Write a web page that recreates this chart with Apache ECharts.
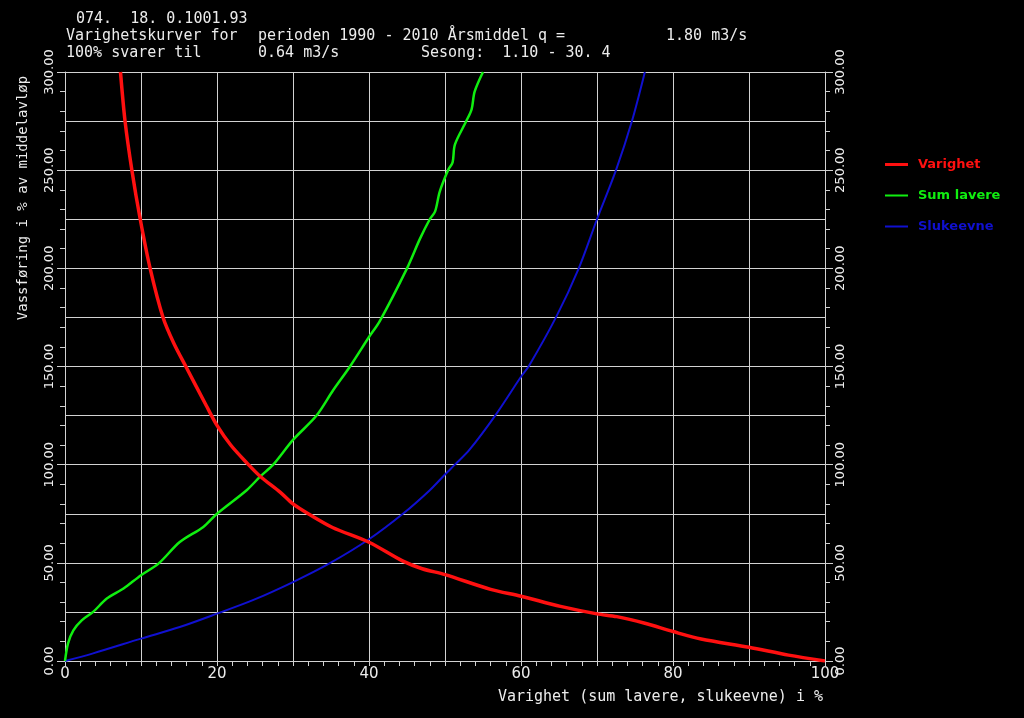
<!DOCTYPE html>
<html>
<head>
<meta charset="utf-8">
<script src="https://cdn.jsdelivr.net/npm/echarts@6/dist/echarts.min.js"></script>
<style>html,body{margin:0;padding:0;background:#000;}#c{width:1024px;height:718px;}</style>
</head>
<body>
<div id="c"></div>
<script>
// Varighet (duration curve): [percent of time, % of mean flow]
const varighet = [[7.3,300],[7.9,275],[8.8,250],[9.9,225],[11.2,200],[12.9,175],[14.3,162],[15.9,150],[18.6,130],[20,120],[21.8,110],[23.9,101],[25.7,94],[28.3,86],[30,80],[32,75],[35.2,68],[40,60.5],[44.4,51],[47,47],[50,44],[56,36.5],[60,33],[65.2,27.8],[70,24],[72.6,22.6],[76.3,19.2],[80,15],[83.7,11.2],[90,7],[95.2,3],[100,0]];
// Sum lavere
const sumLavere = [[0,0],[0.4,9],[1.1,15.6],[2.2,20.7],[3.7,25],[5.5,31.8],[7.7,36.9],[10,43.7],[12.3,49.6],[15.1,60.6],[18.2,68.3],[20,75],[23.9,87],[25.7,94],[27.4,100],[30,112.6],[33.1,125],[35.3,138],[37.5,150],[40,165],[41.4,173],[45,200],[46.7,215],[48,225],[48.7,229],[49.3,239],[50.4,250],[51,254],[51.3,263],[52.8,275],[53.5,281],[53.9,290],[55,300]];
// Slukeevne
const slukeevne = [[0,0],[3.7,3.9],[10,11.4],[15.1,17.3],[20,24.1],[24.8,31.1],[30,40.2],[34.8,49.7],[40,62],[44.5,75.1],[48,87],[50,95],[51.3,100],[53.2,107.5],[56.6,125],[60,144.8],[61,150],[64.6,175],[67.6,200],[70,225],[72.5,250],[74.6,275],[76.3,300]];

const seriesNames = ['Varighet','Sum lavere','Slukeevne'];
const titleLines = [
  ['074.  18. 0.1001.93'],
  ['Varighetskurver for','perioden 1990 - 2010 Årsmiddel q =','1.80 m3/s'],
  ['100% svarer til','0.64 m3/s','Sesong:  1.10 - 30. 4']
];
const yTitle = 'Vassføring i % av middelavløp';
const xTitle = 'Varighet (sum lavere, slukeevne) i %';

const FONT = 'DejaVu Sans';
const MONO = 'DejaVu Sans Mono';
const GRIDC = '#d2d2d2';
const TXT = '#ececec';
const COLORS = ['#ff1010','#10ee10','#1010d0'];
const WIDTHS = [3.5,2.5,2];

const chart = echarts.init(document.getElementById('c'), null, {renderer:'canvas'});

function tickAxis(pos, interval, len, withLabel){
  return {
    type:'value', position:pos, min:0, max:300, interval:interval,
    axisLine:{show:false}, splitLine:{show:false},
    axisTick:{show:true, length:len, lineStyle:{color:GRIDC}},
    axisLabel: withLabel ? {show:true, rotate:90, color:TXT, fontFamily:FONT, fontSize:13, margin:9,
      formatter:v=>v.toFixed(2)} : {show:false}
  };
}

const titleX = [[76],[66,258,666],[66,258,421]];
const titleY = [19,36,53];
const graphics = [];
titleLines.forEach((line,i)=>{
  line.forEach((t,j)=>{
    graphics.push({type:'text', x:titleX[i][j], y:titleY[i],
      style:{text:t, fill:TXT, font:'15px "'+MONO+'"', textVerticalAlign:'middle'}});
  });
});
graphics.push({type:'text', x:23, y:198, rotation:Math.PI/2,
  style:{text:yTitle, fill:TXT, font:'14px "'+MONO+'"', textAlign:'center', textVerticalAlign:'middle'}});
graphics.push({type:'text', x:823, y:697,
  style:{text:xTitle, fill:TXT, font:'15px "'+MONO+'"', textAlign:'right', textVerticalAlign:'middle'}});

const legendTops = [161,192,223];
const legends = seriesNames.map((n,i)=>({
  data:[{name:n}], left:880, top:legendTops[i]-8, icon:'rect',
  itemWidth:23, itemHeight:Math.max(2,Math.round(WIDTHS[i])-1), itemGap:0,
  textStyle:{color:COLORS[i], fontWeight:'bold', fontFamily:FONT, fontSize:13, padding:[0,0,0,5]},
  selectedMode:false
}));

const option = {
  backgroundColor:'#000',
  animation:false,
  grid:{left:65, right:199, top:72, bottom:57},
  legend:legends,
  graphic:graphics,
  xAxis:{
    type:'value', min:0, max:100, interval:10,
    axisLine:{show:true, lineStyle:{color:GRIDC}},
    axisTick:{show:true, length:5, lineStyle:{color:GRIDC}},
    minorTick:{show:true, splitNumber:5, length:5, lineStyle:{color:GRIDC}},
    splitLine:{show:true, lineStyle:{color:GRIDC, width:1}},
    axisLabel:{color:TXT, fontFamily:FONT, fontSize:15, margin:6,
      formatter:v=> (v%20===0 ? String(v) : '')}
  },
  yAxis:[
    {type:'value', position:'left', min:0, max:300, interval:25,
      axisLine:{show:true, lineStyle:{color:GRIDC}},
      axisTick:{show:false}, axisLabel:{show:false},
      splitLine:{show:true, lineStyle:{color:GRIDC, width:1}}},
    tickAxis('left',10,5,false),
    tickAxis('left',50,8,true),
    {type:'value', position:'right', min:0, max:300, interval:25,
      axisLine:{show:true, lineStyle:{color:GRIDC}},
      axisTick:{show:false}, axisLabel:{show:false}, splitLine:{show:false}},
    tickAxis('right',10,5,false),
    tickAxis('right',50,8,true)
  ],
  series:[varighet,sumLavere,slukeevne].map((d,i)=>({
    name:seriesNames[i], type:'line', data:d, yAxisIndex:0, showSymbol:false, smooth:0.3,
    lineStyle:{color:COLORS[i], width:WIDTHS[i]}, itemStyle:{color:COLORS[i]},
    z:3-i
  }))
};
chart.setOption(option);
</script>
</body>
</html>
